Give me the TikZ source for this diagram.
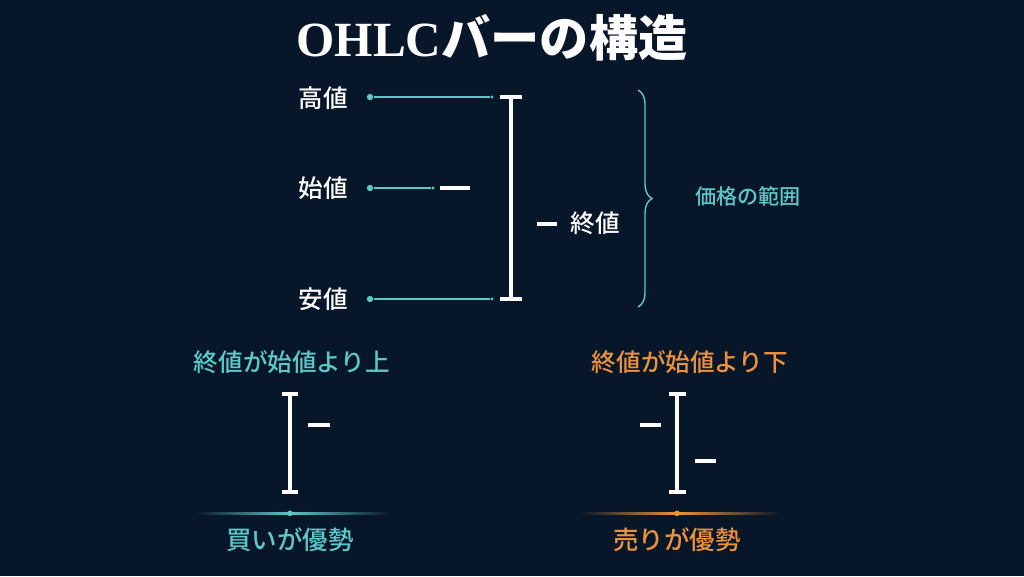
\documentclass[tikz,border=0pt]{standalone}
\usepackage{fontspec}
\setmainfont{Noto Sans CJK JP}
\newfontfamily\moyen{Noto Sans CJK JP Medium}
\newfontfamily\titrelatin{Liberation Serif}
\usetikzlibrary{decorations.pathreplacing}
\definecolor{fondbleu}{RGB}{8,22,42}
\definecolor{turquoise}{RGB}{92,200,200}
\definecolor{orangeb}{RGB}{236,146,60}
\begin{document}
\begin{tikzpicture}[x=0.02cm,y=-0.02cm]
\tikzset{etiquette/.style={text=white, font=\moyen\fontsize{14}{14}\selectfont},
  point/.style={circle, fill=turquoise, inner sep=0pt, minimum size=3.6pt},
  petitpoint/.style={circle, fill=turquoise, inner sep=0pt, minimum size=1.8pt},
  lien/.style={draw=turquoise, line width=0.8pt},
  barre/.style={draw=white, line width=2.4pt},
  minibarre/.style={draw=white, line width=1.8pt}}
\fill[fondbleu] (0,0) rectangle (1024,576);
\node[text=white, font=\fontsize{28}{28}\selectfont\bfseries] (titre) at (492,38) {{\titrelatin OHLC}バーの構造};
% structure
\node[etiquette] (haut) at (323,98) {高値};
\node[etiquette] (ouv) at (323,188) {始値};
\node[etiquette] (bas) at (323,299) {安値};
\node[point] (pH) at (370,97) {};
\node[point] (pO) at (370,188) {};
\node[point] (pB) at (370,299) {};
\node[petitpoint] (qH) at (492,97) {};
\node[petitpoint] (qO) at (433,188) {};
\node[petitpoint] (qB) at (492,299) {};
\draw[lien] (pH) -- (qH);
\draw[lien] (pO) -- (qO);
\draw[lien] (pB) -- (qB);
\coordinate (H) at (511,97);
\coordinate (L) at (511,299);
\draw[barre] (H) -- (L);
\draw[barre] (500,97) -- (522,97);
\draw[barre] (500,299) -- (522,299);
\draw[barre] (440,188) -- (470,188);
\draw[barre] (537,224) -- (557,224);
\node[etiquette] (clot) at (595,223) {終値};
\coordinate (accH) at (638,90);
\coordinate (accB) at (638,307);
\draw[lien, decorate, decoration={brace, amplitude=8pt}] (accH) -- (accB);
\node[text=turquoise, font=\moyen\fontsize{12}{12}\selectfont, anchor=west] (plage) at (689,196) {価格の範囲};
% hausse
\node[text=turquoise, font=\moyen\fontsize{14}{14}\selectfont] (hausse) at (292,362) {終値が始値より上};
\draw[minibarre] (290,394) -- (290,492);
\draw[minibarre] (282,394) -- (298,394);
\draw[minibarre] (282,492) -- (298,492);
\draw[minibarre] (308,425) -- (330,425);
\shade[left color=fondbleu, right color=turquoise] (195,512.3) rectangle (290,514.3);
\shade[left color=turquoise, right color=fondbleu] (290,512.3) rectangle (390,514.3);
\node[point, minimum size=3.2pt] (gH) at (290,513.3) {};
\node[text=turquoise, font=\moyen\fontsize{14.5}{14.5}\selectfont] (achat) at (290,540) {買いが優勢};
% baisse
\node[text=orangeb, font=\moyen\fontsize{14}{14}\selectfont] (baisse) at (690,362) {終値が始値より下};
\draw[minibarre] (677,394) -- (677,492);
\draw[minibarre] (669,394) -- (686,394);
\draw[minibarre] (669,492) -- (686,492);
\draw[minibarre] (640,425) -- (661,425);
\draw[minibarre] (695,461) -- (716,461);
\shade[left color=fondbleu, right color=orangeb] (580,512.3) rectangle (677,514.3);
\shade[left color=orangeb, right color=fondbleu] (677,512.3) rectangle (780,514.3);
\node[point, fill=orangeb, minimum size=3.2pt] (gB) at (677,513.3) {};
\node[text=orangeb, font=\moyen\fontsize{14.5}{14.5}\selectfont] (vente) at (677,540) {売りが優勢};
\end{tikzpicture}
\end{document}
